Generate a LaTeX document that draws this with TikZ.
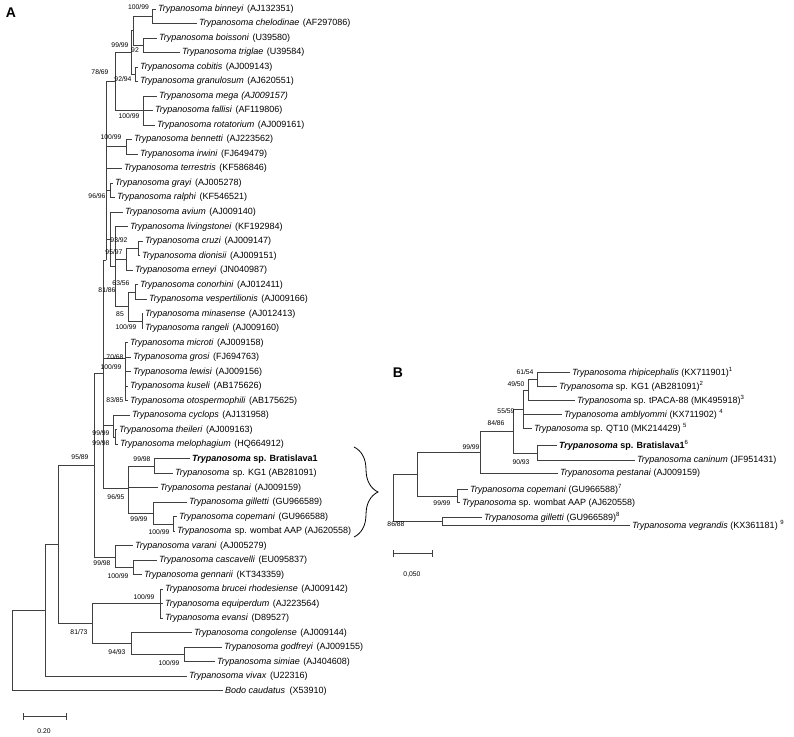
\documentclass[tikz,border=0pt]{standalone}
\usepackage{fontspec}
\setmainfont{Liberation Sans}
\usetikzlibrary{decorations.pathreplacing}
\newcommand\Ty[2]{\textit{Trypanosoma #1}\hspace{3.5pt}(#2)}
\newcommand\TL[5]{\node[lf] (#1) at (#2,#3) {#4}; \draw[br] (#5) |- (#1.west);}
\begin{document}
\begin{tikzpicture}[x=1pt,y=-1pt,
 br/.style={draw=black!75, line width=0.85pt},
 lf/.style={anchor=west, inner sep=1.8pt, font=\fontsize{9}{10}\selectfont},
 bs/.style={inner sep=0pt, font=\fontsize{6.8}{8}\selectfont},
 pl/.style={font=\fontsize{14}{16}\selectfont\bfseries, inner sep=0pt}]
\useasboundingbox (0,0) rectangle (794,736);
\node[pl] (labA) at (11,13) {A};
\node[pl] (labB) at (398,373) {B};
% ---------- tree A internal nodes
\coordinate (n1) at (152,16.3);
\coordinate (n2) at (143,45.3);
\coordinate (n92) at (133,30.8);
\coordinate (n3) at (135,74.3);
\coordinate (n99a) at (131,52.5);
\coordinate (nmega) at (143,110.6);
\coordinate (n7869) at (115,81.6);
\coordinate (nben) at (126,146.9);
\coordinate (ngr) at (110,190.4);
\coordinate (ncr) at (138,248.5);
\coordinate (ncre) at (126,259.3);
\coordinate (ncon) at (135,292);
\coordinate (nmin) at (142,321);
\coordinate (n85) at (128,306.5);
\coordinate (nU) at (115,266.6);
\coordinate (nT) at (110,239);
\coordinate (nS) at (106,260);
\coordinate (nlew) at (125,358);
\coordinate (ncyc2) at (115,437);
\coordinate (ncyc) at (113,425);
\coordinate (nbrat) at (154,466);
\coordinate (ncw) at (173,524);
\coordinate (ngil) at (153,513);
\coordinate (n9695) at (128,488);
\coordinate (nR) at (103,373);
\coordinate (nvar) at (115,557);
\coordinate (ncg) at (133,567.6);
\coordinate (n9589) at (94,465);
\coordinate (nbru) at (160,603.9);
\coordinate (ngod) at (184,654.7);
\coordinate (ncong) at (131,643.8);
\coordinate (n8173) at (92,623.8);
\coordinate (n58) at (58,544.4);
\coordinate (n45) at (45,610.4);
\coordinate (nroot) at (12,650.6);
\foreach \p/\c in {n92/n1,n92/n2,n99a/n92,n99a/n3,n7869/n99a,n7869/nmega,nS/n7869,nS/nben,nS/ngr,nS/nT,nT/nU,nU/ncre,nU/n85,ncre/ncr,n85/ncon,n85/nmin,nR/nS,nR/nlew,nR/ncyc,nR/n9695,ncyc/ncyc2,ngil/ncw,n9695/nbrat,n9695/ngil,n9589/nR,n9589/nvar,nvar/ncg,n8173/nbru,n8173/ncong,ncong/ngod,n58/n9589,n58/n8173,n45/n58,nroot/n45}
  {\draw[br] (\p) |- (\c);}
% ---------- tree A leaves
\TL{a1}{156}{9}{\Ty{binneyi}{AJ132351}}{n1}
\TL{a2}{197}{23.5}{\Ty{chelodinae}{AF297086}}{n1}
\TL{a3}{157}{38}{\Ty{boissoni}{U39580}}{n2}
\TL{a4}{180}{52.5}{\Ty{triglae}{U39584}}{n2}
\TL{a5}{138}{67}{\Ty{cobitis}{AJ009143}}{n3}
\TL{a6}{138}{81.6}{\Ty{granulosum}{AJ620551}}{n3}
\TL{a7}{157}{96.1}{\textit{Trypanosoma mega\hspace{3pt}(AJ009157)}}{nmega}
\TL{a8}{153}{110.6}{\Ty{fallisi}{AF119806}}{nmega}
\TL{a9}{155}{125.1}{\Ty{rotatorium}{AJ009161}}{nmega}
\TL{a10}{132}{139.6}{\Ty{bennetti}{AJ223562}}{nben}
\TL{a11}{138}{154.1}{\Ty{irwini}{FJ649479}}{nben}
\TL{a12}{122}{168.6}{\Ty{terrestris}{KF586846}}{nS}
\TL{a13}{113}{183.1}{\Ty{grayi}{AJ005278}}{ngr}
\TL{a14}{115}{197.6}{\Ty{ralphi}{KF546521}}{ngr}
\TL{a15}{123}{212.1}{\Ty{avium}{AJ009140}}{nT}
\TL{a16}{128}{226.7}{\Ty{livingstonei}{KF192984}}{nU}
\TL{a17}{143}{241.2}{\Ty{cruzi}{AJ009147}}{ncr}
\TL{a18}{140}{255.7}{\Ty{dionisii}{AJ009151}}{ncr}
\TL{a19}{133}{270.2}{\Ty{erneyi}{JN040987}}{ncre}
\TL{a20}{138}{284.7}{\Ty{conorhini}{AJ012411}}{ncon}
\TL{a21}{147}{299.2}{\Ty{vespertilionis}{AJ009166}}{ncon}
\TL{a22}{143}{313.7}{\Ty{minasense}{AJ012413}}{nmin}
\TL{a23}{143}{328.2}{\Ty{rangeli}{AJ009160}}{nmin}
\TL{a24}{128}{342.7}{\Ty{microti}{AJ009158}}{nlew}
\TL{a25}{131}{357.2}{\Ty{grosi}{FJ694763}}{nlew}
\TL{a26}{131}{371.8}{\Ty{lewisi}{AJ009156}}{nlew}
\TL{a27}{128}{386.3}{\Ty{kuseli}{AB175626}}{nlew}
\TL{a28}{128}{400.8}{\Ty{otospermophili}{AB175625}}{nlew}
\TL{a29}{130}{415.3}{\Ty{cyclops}{AJ131958}}{ncyc}
\TL{a30}{117}{429.8}{\Ty{theileri}{AJ009163}}{ncyc2}
\TL{a31}{118}{444.3}{\Ty{melophagium}{HQ664912}}{ncyc2}
\TL{a32}{190}{458.8}{\textbf{\textit{Trypanosoma} sp. Bratislava1}}{nbrat}
\TL{a33}{173}{473.3}{\textit{Trypanosoma}\hspace{3.5pt}sp. KG1 (AB281091)}{nbrat}
\TL{a34}{158}{487.8}{\Ty{pestanai}{AJ009159}}{n9695}
\TL{a35}{187}{502.3}{\Ty{gilletti}{GU966589}}{ngil}
\TL{a36}{177}{516.8}{\Ty{copemani}{GU966588}}{ncw}
\TL{a37}{175}{531.4}{\textit{Trypanosoma}\hspace{3.5pt}sp. wombat AAP (AJ620558)}{ncw}
\TL{a38}{133}{545.9}{\Ty{varani}{AJ005279}}{nvar}
\TL{a39}{157}{560.4}{\Ty{cascavelli}{EU095837}}{ncg}
\TL{a40}{142}{574.9}{\Ty{gennarii}{KT343359}}{ncg}
\TL{a41}{163}{589.4}{\Ty{brucei rhodesiense}{AJ009142}}{nbru}
\TL{a42}{163}{603.9}{\Ty{equiperdum}{AJ223564}}{nbru}
\TL{a43}{163}{618.4}{\Ty{evansi}{D89527}}{nbru}
\TL{a44}{192}{632.9}{\Ty{congolense}{AJ009144}}{ncong}
\TL{a45}{222}{647.4}{\Ty{godfreyi}{AJ009155}}{ngod}
\TL{a46}{215}{661.9}{\Ty{simiae}{AJ404608}}{ngod}
\TL{a47}{187}{676.4}{\Ty{vivax}{U22316}}{n45}
\TL{a48}{223}{690.9}{\textit{Bodo caudatus}\hspace{4.5pt}(X53910)}{nroot}
% ---------- tree A support values
\node[bs] at (138.5,7) {100/99};
\node[bs] at (120,45) {99/99};
\node[bs] at (135,50) {92};
\node[bs] at (100,72) {78/69};
\node[bs] at (123,79) {92/94};
\node[bs] at (129,116) {100/99};
\node[bs] at (111,137) {100/99};
\node[bs] at (97,196) {96/96};
\node[bs] at (119,240) {93/92};
\node[bs] at (114,252) {95/97};
\node[bs] at (121,283) {63/56};
\node[bs] at (107,290) {81/86};
\node[bs] at (120,314) {85};
\node[bs] at (126,327) {100/99};
\node[bs] at (115,357) {70/68};
\node[bs] at (111,367) {100/99};
\node[bs] at (115,400) {83/85};
\node[bs] at (101,433) {99/99};
\node[bs] at (101,443) {99/98};
\node[bs] at (80,457) {95/89};
\node[bs] at (142,459) {99/98};
\node[bs] at (116,497) {96/95};
\node[bs] at (139,519) {99/99};
\node[bs] at (159,532) {100/99};
\node[bs] at (102,563) {99/98};
\node[bs] at (118,576) {100/99};
\node[bs] at (144,597) {100/99};
\node[bs] at (79,632) {81/73};
\node[bs] at (117,652) {94/93};
\node[bs] at (169,663) {100/99};
% scale A
\coordinate (sa1) at (23,716); \coordinate (sa2) at (66,716);
\draw[br] (sa1) -- (sa2);
\draw[br] ([yshift=-3.5pt]sa1) -- ([yshift=3.5pt]sa1);
\draw[br] ([yshift=-3.5pt]sa2) -- ([yshift=3.5pt]sa2);
\node[bs] (sal) at (44,731) {0.20};
% brace
\coordinate (bt) at (354,447); \coordinate (bb) at (354,537);
\draw[line width=0.8pt, decorate, decoration={brace, amplitude=24pt}] (bt) -- (bb);
% ---------- tree B
\coordinate (m6154) at (537,379.2);
\coordinate (m4950) at (528,390);
\coordinate (m5559) at (523,409.2);
\coordinate (m9093) at (537,453);
\coordinate (m8486) at (513,431);
\coordinate (m9999) at (480,452);
\coordinate (mcw) at (457,496);
\coordinate (mB1) at (417,474);
\coordinate (mgv) at (442,521.2);
\coordinate (mroot) at (393,497.6);
\foreach \p/\c in {m4950/m6154,m5559/m4950,m8486/m5559,m8486/m9093,m9999/m8486,mB1/m9999,mB1/mcw,mroot/mB1,mroot/mgv}
  {\draw[br] (\p) |- (\c);}
\TL{b1}{570}{372.3}{\textit{Trypanosoma rhipicephalis} (KX711901)\textsuperscript{1}}{m6154}
\TL{b2}{557}{386}{\textit{Trypanosoma} sp. KG1 (AB281091)\textsuperscript{2}}{m6154}
\TL{b3}{575}{400.7}{\textit{Trypanosoma} sp. tPACA-88 (MK495918)\textsuperscript{3}}{m4950}
\TL{b4}{562}{414.7}{\textit{Trypanosoma amblyommi} (KX711902) \textsuperscript{4}}{m5559}
\TL{b5}{532}{428.3}{\textit{Trypanosoma} sp. QT10 (MK214429) \textsuperscript{5}}{m5559}
\TL{b6}{557}{445.7}{\textbf{\textit{Trypanosoma} sp. Bratislava1}\textsuperscript{6}}{m9093}
\TL{b7}{635}{460}{\textit{Trypanosoma caninum} (JF951431)}{m9093}
\TL{b8}{558}{473.3}{\textit{Trypanosoma pestanai} (AJ009159)}{m9999}
\TL{b9}{468}{489.3}{\textit{Trypanosoma copemani} (GU966588)\textsuperscript{7}}{mcw}
\TL{b10}{460}{502.7}{\textit{Trypanosoma} sp. wombat AAP (AJ620558)}{mcw}
\TL{b11}{482}{517.3}{\textit{Trypanosoma gilletti} (GU966589)\textsuperscript{8}}{mgv}
\TL{b12}{630}{525}{\textit{Trypanosoma vegrandis} (KX361181) \textsuperscript{9}}{mgv}
\node[bs] at (525,372) {61/54};
\node[bs] at (516,384) {49/50};
\node[bs] at (506,411) {55/59};
\node[bs] at (496,423) {84/86};
\node[bs] at (471,447) {99/99};
\node[bs] at (521,462) {90/93};
\node[bs] at (442,503) {99/99};
\node[bs] at (396,524) {86/88};
% scale B
\coordinate (sb1) at (393,553); \coordinate (sb2) at (432,553);
\draw[br] (sb1) -- (sb2);
\draw[br] ([yshift=-3.5pt]sb1) -- ([yshift=3.5pt]sb1);
\draw[br] ([yshift=-3.5pt]sb2) -- ([yshift=3.5pt]sb2);
\node[bs] (sbl) at (412,575) {0,050};
\end{tikzpicture}
\end{document}
